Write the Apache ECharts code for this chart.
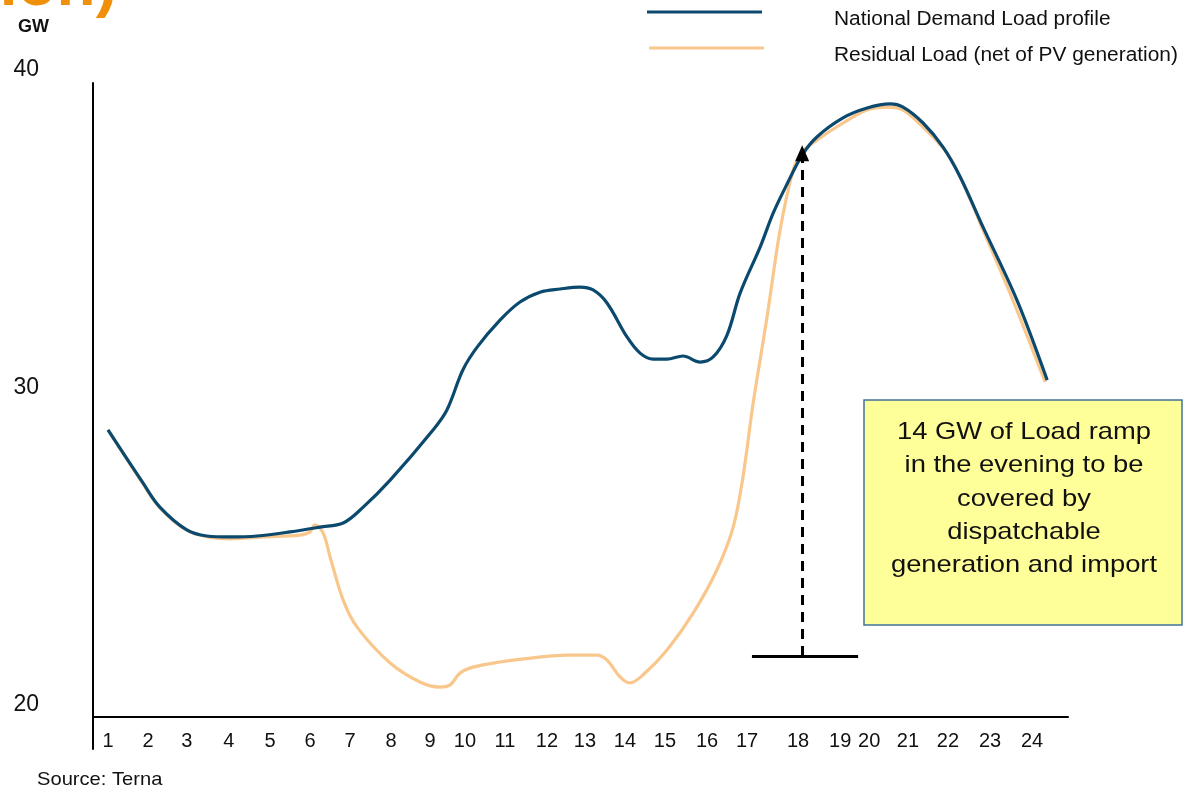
<!DOCTYPE html>
<html>
<head>
<meta charset="utf-8">
<title>National demand vs residual load</title>
<script src="https://cdn.jsdelivr.net/npm/echarts@6/dist/echarts.min.js"></script>
<style>
  html, body { margin: 0; padding: 0; background: #ffffff; }
  #chart { width: 1183px; height: 792px; }
</style>
</head>
<body>
<div id="chart"></div>
<script>
// Daily load curves, hour of day (1..24) against GW
const demandHour = [1.00, 1.857, 2.27, 2.93, 3.42, 3.99, 4.65, 5.46, 6.19, 6.76,
  7.25, 7.91, 8.96, 9.30, 9.69, 10.04, 10.60, 11.09, 11.58, 12.07,
  12.56, 12.88, 13.22, 13.71, 14.03, 14.35, 14.69, 15.08, 15.50, 15.82,
  16.16, 16.48, 16.97, 17.29, 17.63, 18.00, 18.36, 19.00, 19.59, 20.15, 20.47,
  20.96, 21.45, 21.87, 22.43, 23.26, 24.00];
const demandGW = [28.60, 26.93, 26.17, 25.45, 25.26, 25.23, 25.26, 25.39, 25.54, 25.67,
  26.17, 27.02, 28.60, 29.23, 30.49, 31.21, 32.06, 32.63, 32.94, 33.04,
  33.10, 33.01, 32.60, 31.53, 31.02, 30.83, 30.83, 30.93, 30.74, 30.90,
  31.59, 32.91, 34.36, 35.43, 36.35, 37.26, 37.83, 38.43, 38.74, 38.87, 38.77,
  38.27, 37.51, 36.57, 34.99, 32.69, 30.17];

const residualHour = [1.00, 1.857, 2.27, 3.01, 3.99, 4.80, 5.70, 5.95, 6.07, 6.27,
  6.44, 6.76, 7.10, 7.91, 8.64, 9.13, 9.38, 9.62, 9.94, 10.60,
  11.41, 12.24, 12.98, 13.22, 13.54, 13.78, 14.10, 14.69, 15.33, 15.91,
  16.31, 16.55, 16.80, 17.14, 17.46, 17.78, 18.00, 18.36, 19.00, 19.59,
  20.08, 20.47, 20.96, 21.55, 21.94, 22.43, 23.16, 23.95];
const residualGW = [28.60, 26.90, 26.15, 25.39, 25.17, 25.23, 25.29, 25.39, 25.61, 25.35,
  24.60, 23.24, 22.39, 21.26, 20.66, 20.50, 20.57, 20.94, 21.13, 21.29,
  21.42, 21.51, 21.51, 21.35, 20.82, 20.63, 20.88, 21.67, 22.83, 24.19,
  25.54, 27.12, 29.45, 32.16, 34.90, 36.79, 37.35, 37.73, 38.27, 38.68,
  38.77, 38.68, 38.14, 37.32, 36.38, 34.90, 32.69, 30.11];

// Hour labels along the x axis and where they sit on the hour scale
const hourTickLabels = ['1', '2', '3', '4', '5', '6', '7', '8', '9', '10', '11', '12',
  '13', '14', '15', '16', '17', '18', '19', '20', '21', '22', '23', '24'];
const hourTickAt = [1.00, 1.98, 2.93, 3.96, 4.97, 5.95, 6.93, 7.93, 8.89, 9.74, 10.72, 11.75,
  12.68, 13.66, 14.64, 15.67, 16.65, 17.90, 18.93, 19.64, 20.59, 21.57, 22.60, 23.63];

// GW labels on the y axis
const gwTicks = [20, 30, 40];
const gwTickLabels = ['20', '30', '40'];

// Evening ramp marker (hour, GW)
const rampHour = 18;
const rampFloorGW = 21.48;
const rampTopGW = 37.32;
const rampBarFromHour = 16.77;
const rampBarToHour = 19.37;

const seriesNames = ['National Demand Load profile', 'Residual Load (net of PV generation)'];
const noteLines = ['14 GW of Load ramp', 'in the evening to be', 'covered by', 'dispatchable', 'generation and import'];

const X_MIN = 0.633, X_MAX = 24.51;
const Y_MIN = 18.55, Y_MAX = 39.53;

const FONT = '"Liberation Sans", Arial, Helvetica, sans-serif';
const DEMAND_COLOR = '#0b4a6e';
const RESIDUAL_COLOR = '#f9c78c';
const seriesColors = [DEMAND_COLOR, RESIDUAL_COLOR];

const pairs = (xs, ys) => xs.map((x, i) => [x, ys[i]]);

const chart = echarts.init(document.getElementById('chart'), null, { renderer: 'canvas' });

chart.setOption({
  animation: false,
  backgroundColor: '#ffffff',
  grid: { left: 93, right: 115, top: 83, bottom: 43 },
  xAxis: {
    type: 'value',
    min: X_MIN,
    max: X_MAX,
    offset: -32,
    axisLine: { show: true, lineStyle: { color: '#000000', width: 2 } },
    axisTick: { show: false },
    splitLine: { show: false },
    axisLabel: {
      customValues: hourTickAt,
      formatter: function (val) {
        const i = hourTickAt.findIndex(h => Math.abs(h - val) < 1e-6);
        return i >= 0 ? hourTickLabels[i] : '';
      },
      color: '#111111',
      fontSize: 20,
      fontFamily: FONT,
      margin: 14
    }
  },
  yAxis: {
    type: 'value',
    min: Y_MIN,
    max: Y_MAX,
    axisLine: { show: true, lineStyle: { color: '#000000', width: 2 } },
    axisTick: { show: false },
    splitLine: { show: false },
    axisLabel: { show: false }
  },
  series: [
    {
      name: seriesNames[1],
      type: 'line',
      data: pairs(residualHour, residualGW),
      smooth: 0.35,
      showSymbol: false,
      symbol: 'none',
      z: 2,
      itemStyle: { color: RESIDUAL_COLOR },
      lineStyle: { color: RESIDUAL_COLOR, width: 3.2 },
      markLine: {
        silent: true,
        animation: false,
        symbol: 'none',
        label: { show: false },
        data: [
          [
            { coord: [rampHour, rampFloorGW], symbol: 'none',
              lineStyle: { color: '#000000', width: 3, type: [10, 7] } },
            { coord: [rampHour, rampTopGW], symbol: 'triangle', symbolSize: [14, 16],
              lineStyle: { color: '#000000', width: 3, type: [10, 7] } }
          ],
          [
            { coord: [rampBarFromHour, rampFloorGW], symbol: 'none',
              lineStyle: { color: '#000000', width: 3, type: 'solid' } },
            { coord: [rampBarToHour, rampFloorGW], symbol: 'none',
              lineStyle: { color: '#000000', width: 3, type: 'solid' } }
          ]
        ],
        itemStyle: { color: '#000000' }
      }
    },
    {
      name: seriesNames[0],
      type: 'line',
      data: pairs(demandHour, demandGW),
      smooth: 0.35,
      showSymbol: false,
      symbol: 'none',
      z: 3,
      itemStyle: { color: DEMAND_COLOR },
      lineStyle: { color: DEMAND_COLOR, width: 3.2 }
    }
  ]
});

// Text placed around the plot: key, GW tick labels, unit, source, note box, heading fragment
const gfx = [];

// key: a line sample per series with its name to the right, a little lower
seriesNames.forEach((name, i) => {
  const y = 12 + i * 36;
  gfx.push({
    type: 'line',
    shape: { x1: 647 + i * 2, y1: y, x2: 762 + i * 2, y2: y },
    style: { stroke: seriesColors[i], lineWidth: 3 }
  });
  gfx.push({
    type: 'text', x: 834, y: y + 7, scaleX: 1.045, originX: 0,
    style: { text: name, font: '20px ' + FONT, fill: '#111111',
      align: 'left', textAlign: 'left', verticalAlign: 'middle', textVerticalAlign: 'middle' }
  });
});

gwTicks.forEach((v, i) => {
  const p = chart.convertToPixel({ gridIndex: 0 }, [X_MIN, v]);
  gfx.push({
    type: 'text',
    x: p[0] - 54,
    y: p[1] + 2,
    style: {
      text: gwTickLabels[i], font: '23px ' + FONT, fill: '#111111',
      align: 'right', textAlign: 'right', verticalAlign: 'middle', textVerticalAlign: 'middle'
    }
  });
});

gfx.push({
  type: 'text', x: 18, y: 27,
  style: { text: 'GW', font: 'bold 18px ' + FONT, fill: '#111111',
    align: 'left', textAlign: 'left', verticalAlign: 'middle', textVerticalAlign: 'middle' }
});

gfx.push({
  type: 'text', x: 37, y: 780, scaleX: 1.06, originX: 0,
  style: { text: 'Source: Terna', font: '19px ' + FONT, fill: '#111111',
    align: 'left', textAlign: 'left', verticalAlign: 'middle', textVerticalAlign: 'middle' }
});

gfx.push({
  type: 'text', x: 117, y: -13,
  style: { text: 'tion)', font: 'bold 64px ' + FONT, fill: '#f0900a',
    align: 'right', textAlign: 'right', verticalAlign: 'middle', textVerticalAlign: 'middle' }
});

gfx.push({
  type: 'rect',
  shape: { x: 864, y: 400, width: 318, height: 225 },
  style: { fill: '#ffff99', stroke: '#41719c', lineWidth: 1.5 },
  z: 10
});
gfx.push({
  type: 'text', x: 1024, y: 499, scaleX: 1.14, originX: 0, z: 11,
  style: { text: noteLines.join('\n'), font: '24px ' + FONT, fill: '#111111', lineHeight: 33.3,
    align: 'center', textAlign: 'center', verticalAlign: 'middle', textVerticalAlign: 'middle' }
});

chart.setOption({ graphic: { elements: gfx } });
</script>
</body>
</html>
